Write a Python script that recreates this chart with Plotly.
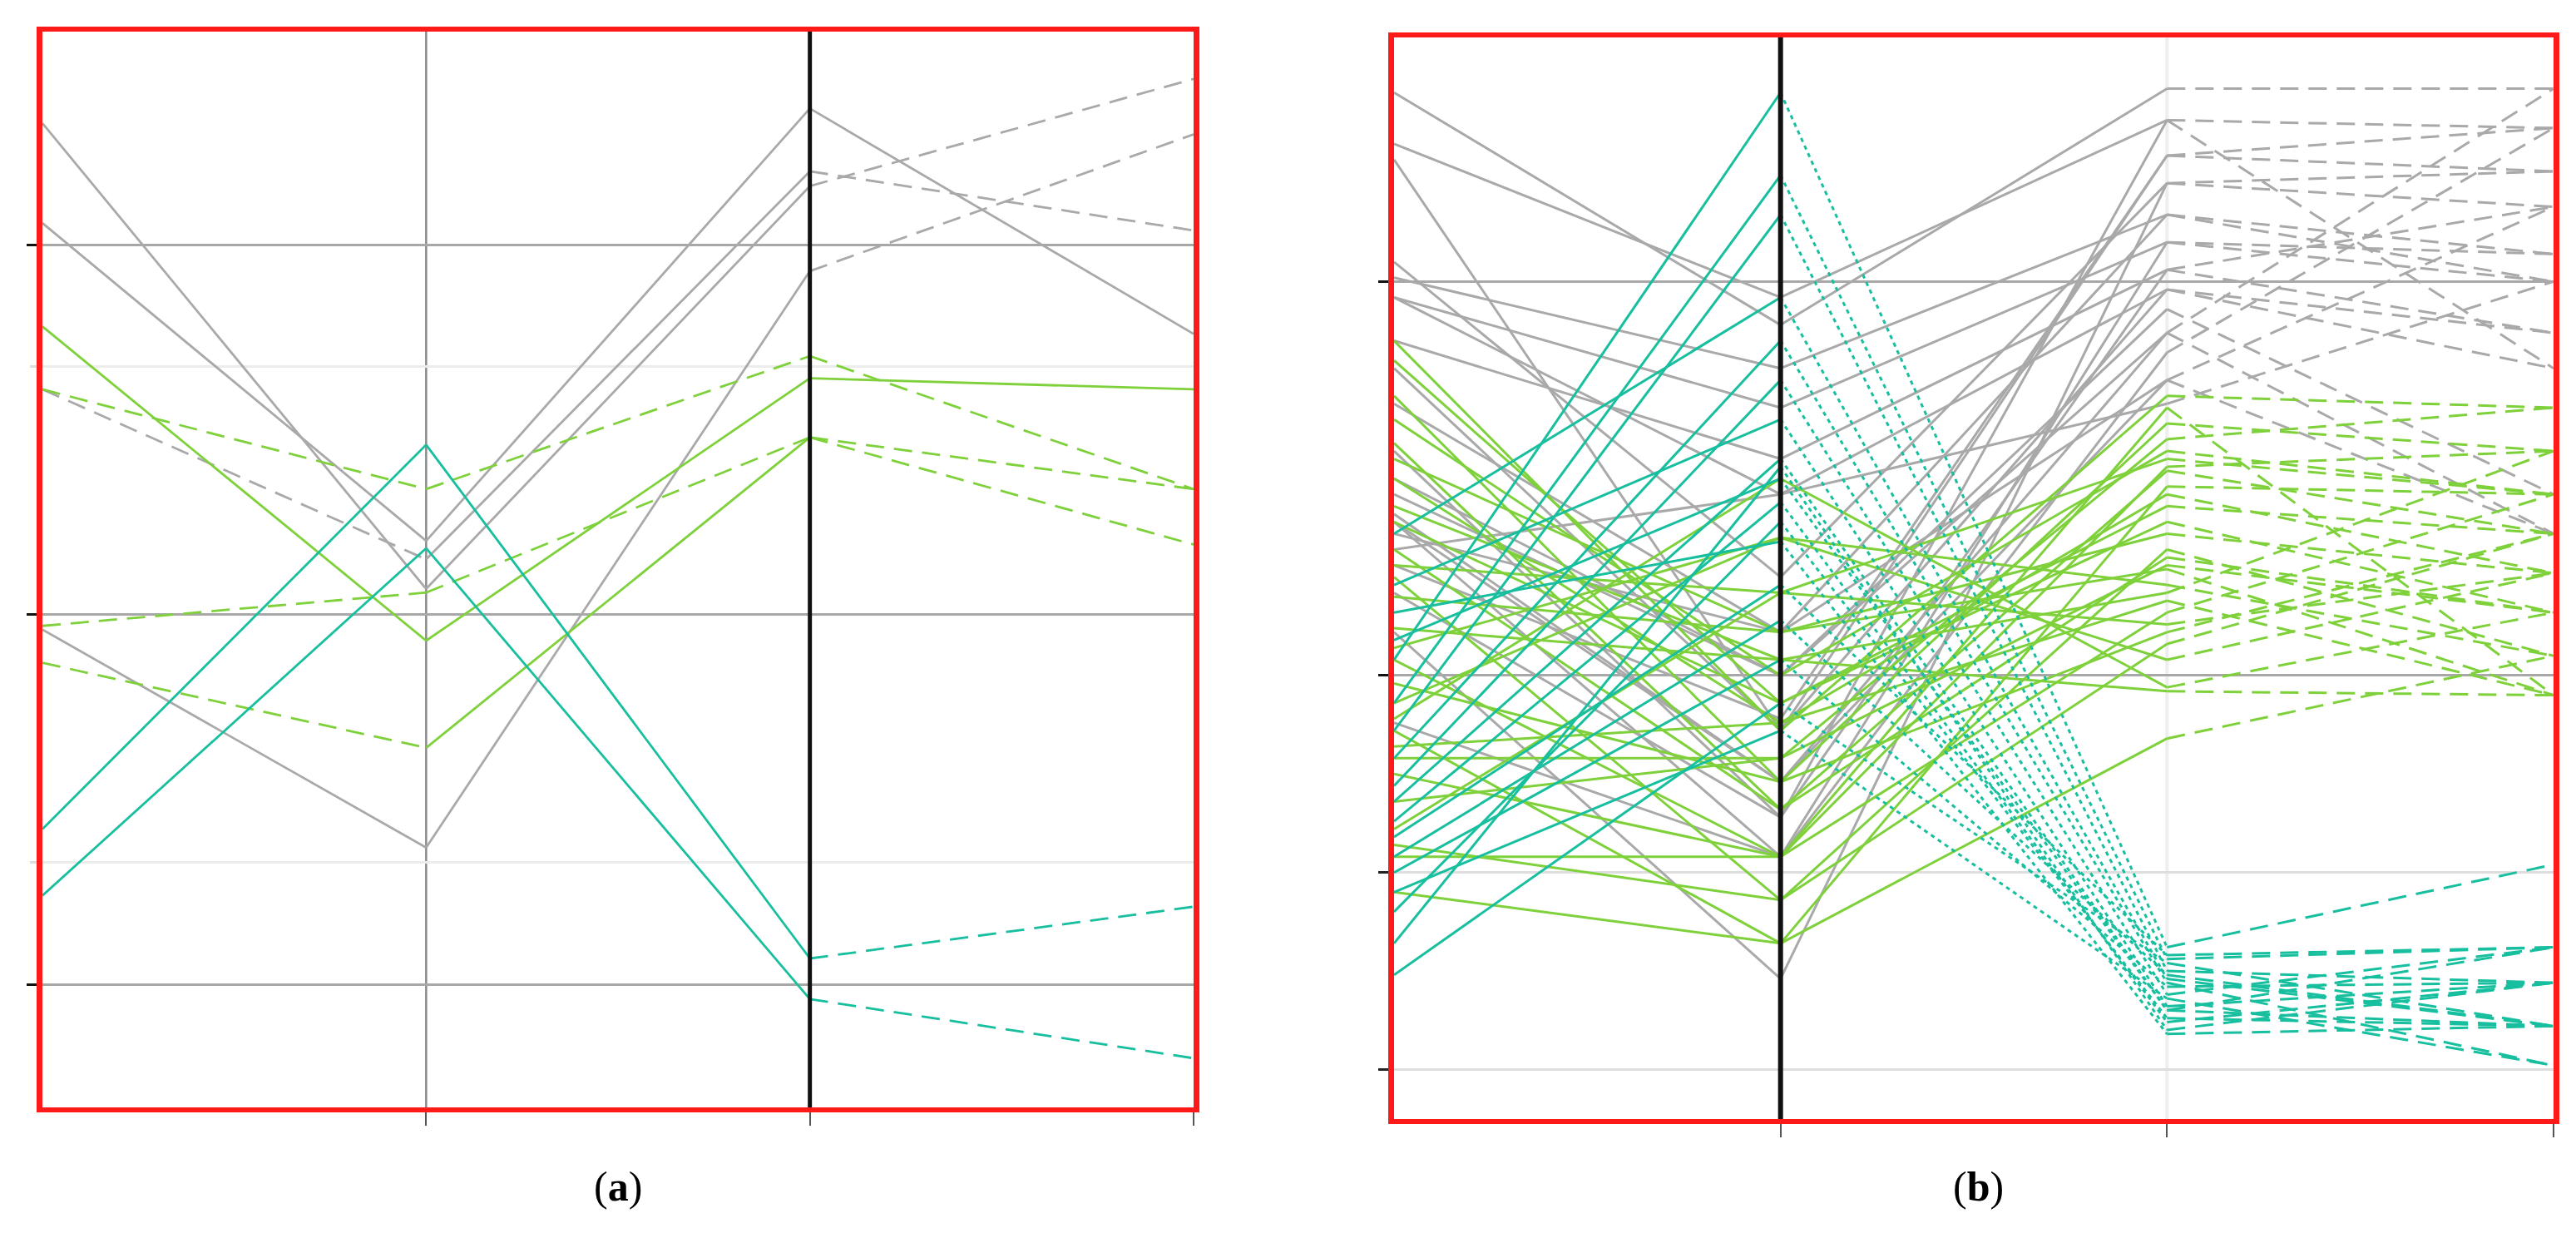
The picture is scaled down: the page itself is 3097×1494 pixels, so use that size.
import plotly.graph_objects as go

# the four parallel axes
AXES = [0, 1, 2, 3]

# ---- panel (a): one list per polyline, values at axes 0..3 ----
a_gray = [
    [2.33, 1.07, 2.16, 2.45],
    [2.06, 1.20, 2.37, 1.76],
    [1.61, 1.15, 2.20, 2.04],
    [0.96, 0.37, 1.93, 2.30],
]
a_green = [
    [1.78, 0.93, 1.64, 1.61],
    [1.61, 1.34, 1.70, 1.34],
    [0.97, 1.06, 1.48, 1.19],
    [0.87, 0.64, 1.48, 1.34],
]
a_teal = [
    [0.42, 1.46, 0.07, 0.21],
    [0.24, 1.18, -0.04, -0.20],
]

# ---- panel (b): values at each axis, one entry per polyline ----
b_teal_0 = [1.04, 0.93, 0.86, 1.36, 0.79, 0.72, 1.23, 0.68, 0.63, 1.16, 0.59, 0.54, 0.50, 0.45, 1.09, 0.40, 0.32, 0.24]
b_teal_1 = [2.48, 2.27, 2.17, 1.96, 1.85, 1.75, 1.65, 1.55, 1.44, 1.34, 1.23, 1.14, 1.04, 0.86, 1.50, 1.39, 1.53, 0.93]
b_teal_2 = [0.31, 0.28, 0.25, 0.23, 0.22, 0.19, 0.16, 0.15, 0.12, 0.09, 0.29, 0.24, 0.21, 0.18, 0.15, 0.13, 0.10, 0.27]
b_teal_3 = [0.52, 0.31, 0.22, 0.11, 0.01, 0.31, 0.22, 0.11, 0.22, 0.11, 0.31, 0.11, 0.22, 0.01, 0.31, 0.11, 0.22, 0.11]

b_green_0 = [1.85, 1.71, 1.65, 1.59, 1.50, 1.39, 1.25, 1.20, 1.12, 1.04, 0.98, 0.93, 0.89, 0.86, 0.75, 0.68, 0.54, 0.45, 1.80, 1.55, 1.32, 1.07, 0.82, 0.61, 0.57, 1.43, 1.28, 0.79]
b_green_1 = [0.86, 0.73, 1.00, 0.66, 0.88, 0.93, 0.43, 1.11, 1.04, 0.54, 0.73, 1.35, 1.50, 0.32, 0.54, 0.79, 0.54, 0.32, 0.93, 1.11, 0.66, 1.35, 0.88, 1.21, 0.43, 1.04, 1.21, 0.79]
b_green_2 = [1.71, 1.64, 1.57, 1.52, 1.46, 1.39, 1.32, 1.27, 1.21, 1.16, 1.11, 1.04, 0.97, 0.84, 1.68, 1.60, 1.53, 1.48, 1.43, 1.36, 1.30, 1.23, 1.19, 1.13, 1.08, 0.96, 1.55, 1.28]
b_green_3 = [1.68, 1.57, 1.46, 1.36, 1.26, 1.16, 1.05, 0.95, 1.57, 1.46, 1.36, 1.26, 1.16, 1.05, 0.95, 1.68, 1.57, 1.46, 1.36, 1.26, 1.16, 1.05, 0.95, 1.26, 1.36, 0.95, 1.46, 1.16]

b_gray_0 = [2.48, 2.35, 2.31, 2.05, 2.01, 1.96, 1.85, 1.78, 1.46, 1.41, 1.39, 1.36, 1.32, 1.21, 1.11, 0.88, 1.96, 1.50, 1.39, 1.28, 1.69, 1.57]
b_gray_1 = [1.89, 1.96, 0.86, 1.25, 1.78, 1.68, 1.55, 0.86, 1.00, 0.73, 0.54, 1.11, 1.46, 0.64, 0.23, 0.54, 1.46, 1.00, 0.73, 0.89, 1.11, 0.64]
b_gray_2 = [2.49, 2.41, 2.32, 2.25, 2.17, 2.10, 2.03, 1.98, 1.93, 1.87, 1.82, 1.75, 1.69, 2.41, 2.25, 2.10, 1.98, 1.87, 1.75, 2.32, 2.17, 2.03]
b_gray_3 = [2.49, 2.39, 2.28, 2.19, 2.07, 2.00, 1.87, 1.78, 1.46, 1.36, 2.39, 2.19, 2.00, 1.78, 2.28, 2.07, 1.87, 2.49, 1.36, 2.39, 2.00, 2.19]

panel_labels = ["a", "b"]

# styles
GRAY = "#a9a9a9"
GREEN = "#7fd13b"
TEAL = "#17bf9f"
DASH = "22px,12px"
DOT = "5px,5px"

a_gray_dash = [["solid", "solid", DASH], ["solid", "solid", "solid"],
               [DASH, "solid", DASH], ["solid", "solid", DASH]]
a_green_dash = [["solid", "solid", "solid"], [DASH, DASH, DASH],
                [DASH, DASH, DASH], [DASH, "solid", DASH]]
a_teal_dash = [["solid", "solid", DASH], ["solid", "solid", DASH]]


def add_lines(fig, rows, color, dashes, xa, ya, width=2.5):
    """Draw each polyline segment by segment so every segment keeps its own dash."""
    for row, dash in zip(rows, dashes):
        for i in range(len(AXES) - 1):
            fig.add_trace(go.Scatter(
                x=AXES[i:i + 2], y=row[i:i + 2], mode="lines",
                line=dict(color=color, width=width, dash=dash[i]),
                xaxis=xa, yaxis=ya, showlegend=False, hoverinfo="skip",
            ))


fig = go.Figure()

# panel (a)
add_lines(fig, a_gray, GRAY, a_gray_dash, "x", "y", 2.8)
add_lines(fig, a_green, GREEN, a_green_dash, "x", "y", 2.8)
add_lines(fig, a_teal, TEAL, a_teal_dash, "x", "y", 2.8)

# panel (b)
b_gray = [list(r) for r in zip(b_gray_0, b_gray_1, b_gray_2, b_gray_3)]
b_green = [list(r) for r in zip(b_green_0, b_green_1, b_green_2, b_green_3)]
b_teal = [list(r) for r in zip(b_teal_0, b_teal_1, b_teal_2, b_teal_3)]
add_lines(fig, b_gray, GRAY, [["solid", "solid", DASH]] * len(b_gray), "x2", "y2", 3)
add_lines(fig, b_green, GREEN, [["solid", "solid", DASH]] * len(b_green), "x2", "y2", 3)
add_lines(fig, b_teal, TEAL, [["solid", DOT, DASH]] * len(b_teal), "x2", "y2", 3)

W, H = 3097, 1494

xcommon = dict(range=[0, 3], showgrid=False, zeroline=False, showticklabels=False,
               tickmode="array", tickvals=[1, 2, 3], ticks="outside", ticklen=16,
               tickwidth=2, tickcolor="#555555",
               showline=True, mirror=True, linecolor="#ff1a1a", linewidth=6)
ycommon = dict(zeroline=False, showticklabels=False, tickmode="array",
               ticks="outside", ticklen=12, tickwidth=3, tickcolor="#111111",
               showgrid=True, gridcolor="#a8a8a8", gridwidth=3,
               showline=True, mirror=True, linecolor="#ff1a1a", linewidth=7)

fig.update_layout(
    width=W, height=H,
    margin=dict(l=0, r=0, t=0, b=0),
    paper_bgcolor="white", plot_bgcolor="white",
    xaxis=dict(domain=[43 / W, 1427 / W], anchor="y", **xcommon),
    yaxis=dict(domain=[1 - 1323 / H, 1 - 30 / H], anchor="x", range=[-0.333, 2.578],
               tickvals=[0, 1, 2],
               minor=dict(tickmode="array", tickvals=[0.329, 1.671], showgrid=True,
                          gridcolor="#ececec", gridwidth=3, ticks="outside",
                          ticklen=8, tickcolor="#dddddd"),
               **ycommon),
    xaxis2=dict(domain=[1668 / W, 3062 / W], anchor="y2", **xcommon),
    yaxis2=dict(domain=[1 - 1337 / H, 1 - 37 / H], anchor="x2", range=[-0.126, 2.62],
                tickvals=[1, 2],
                minor=dict(tickmode="array", tickvals=[0, 0.5], showgrid=True,
                           gridcolor="#dedede", gridwidth=3, ticks="outside",
                           ticklen=12, tickwidth=3, tickcolor="#222222"),
                **ycommon),
)

# interior parallel axes
axis_lines = [("x", "y", 1, "#8c8c8c", 2.5), ("x", "y", 2, "#111111", 5),
              ("x2", "y2", 1, "#111111", 6), ("x2", "y2", 2, "#eeeeee", 4)]
for xr, yr, xv, col, w in axis_lines:
    fig.add_shape(type="line", xref=xr, yref=yr + " domain", x0=xv, x1=xv, y0=0, y1=1,
                  line=dict(color=col, width=w), layer="above" if col == "#111111" else "below")

# panel letters
for lab, xc in zip(panel_labels, [735 / W, 2370 / W]):
    fig.add_annotation(text="(<b>" + lab + "</b>)", x=xc, y=1 - 1418 / H,
                       xref="paper", yref="paper", xanchor="center", yanchor="middle",
                       showarrow=False,
                       font=dict(family="Liberation Serif, Times New Roman, serif",
                                 size=50, color="black"))

fig.write_html("out.html")
